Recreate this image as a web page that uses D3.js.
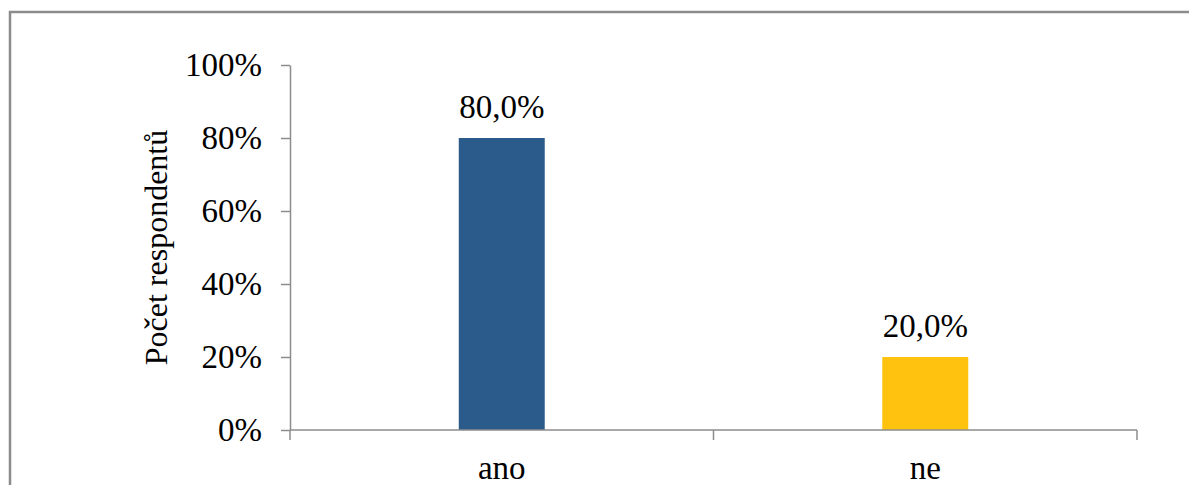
<!DOCTYPE html>
<html>
<head>
<meta charset="utf-8">
<script src="https://cdn.jsdelivr.net/npm/d3@7"></script>
<style>
  html, body { margin: 0; padding: 0; background: #fff; }
  svg { display: block; }
  text { font-family: "Liberation Serif", "Times New Roman", serif; fill: #000; }
</style>
</head>
<body>
<svg id="chart" width="1189" height="485"></svg>
<script>
// Survey answers and their share of respondents
const categories = ["ano", "ne"];
const shares = [0.80, 0.20];
const barColors = ["#2A5B8A", "#FFC20E"];
const yTicks = [0, 0.2, 0.4, 0.6, 0.8, 1.0];
const yTitle = "Počet respondentů";

const svg = d3.select("#chart");
const W = 1189, H = 485;

// outer frame of the chart area
svg.append("rect")
  .attr("x", 10).attr("y", 12)
  .attr("width", W + 20).attr("height", H + 20)
  .attr("fill", "#fff")
  .attr("stroke", "#8c8c8c")
  .attr("stroke-width", 2.5);

const plot = { left: 290, right: 1137, top: 65, bottom: 430 };

const x = d3.scaleBand()
  .domain(categories)
  .range([plot.left, plot.right])
  .paddingInner(0).paddingOuter(0);

const y = d3.scaleLinear()
  .domain([0, 1])
  .range([plot.bottom, plot.top]);

const barWidth = x.bandwidth() * 0.203;
const pctFmt = d3.format(".0%");
const labelFmt = v => d3.format(".1f")(v * 100).replace(".", ",") + "%";

// y axis
const yAxis = svg.append("g")
  .attr("transform", `translate(${plot.left},0)`)
  .call(d3.axisLeft(y).tickValues(yTicks).tickFormat(pctFmt)
    .tickSize(9).tickSizeOuter(0).tickPadding(19));
yAxis.select(".domain").attr("stroke", "#8c8c8c").attr("stroke-width", 1.5);
yAxis.selectAll(".tick line").attr("stroke", "#8c8c8c").attr("stroke-width", 1.5);
yAxis.selectAll(".tick text")
  .attr("font-family", "Liberation Serif, Times New Roman, serif")
  .attr("font-size", 33)
  .attr("fill", "#000");

// bars
svg.append("g").selectAll("rect")
  .data(categories)
  .join("rect")
  .attr("x", (d) => x(d) + x.bandwidth() / 2 - barWidth / 2)
  .attr("y", (d, i) => y(shares[i]))
  .attr("width", barWidth)
  .attr("height", (d, i) => y(0) - y(shares[i]))
  .attr("fill", (d, i) => barColors[i]);

// x axis: baseline with ticks between categories
const xAxis = svg.append("g")
  .attr("transform", `translate(0,${plot.bottom})`);
xAxis.append("line")
  .attr("x1", plot.left).attr("x2", plot.right)
  .attr("stroke", "#8c8c8c").attr("stroke-width", 1.5);
const boundaries = categories.map(d => x(d)).concat([plot.right]);
xAxis.selectAll("line.tick")
  .data(boundaries)
  .join("line")
  .attr("class", "tick")
  .attr("x1", d => d).attr("x2", d => d)
  .attr("y1", 0).attr("y2", 10)
  .attr("stroke", "#8c8c8c").attr("stroke-width", 1.5);
xAxis.selectAll("text")
  .data(categories)
  .join("text")
  .attr("x", d => x(d) + x.bandwidth() / 2)
  .attr("y", 49)
  .attr("text-anchor", "middle")
  .attr("font-size", 33)
  .text(d => d);

// value labels above bars
svg.append("g").selectAll("text")
  .data(categories)
  .join("text")
  .attr("x", d => x(d) + x.bandwidth() / 2)
  .attr("y", (d, i) => y(shares[i]) - 20)
  .attr("text-anchor", "middle")
  .attr("font-size", 33)
  .text((d, i) => labelFmt(shares[i]));

// y axis title
svg.append("text")
  .attr("transform", `translate(167,${(plot.top + plot.bottom) / 2}) rotate(-90)`)
  .attr("text-anchor", "middle")
  .attr("font-size", 32)
  .text(yTitle);
</script>
</body>
</html>
